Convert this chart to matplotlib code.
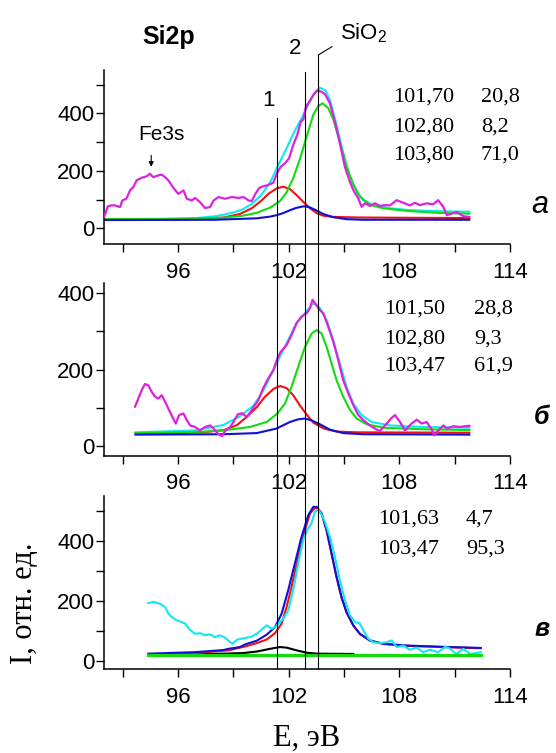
import matplotlib
matplotlib.use("Agg")
import matplotlib.pyplot as plt
from matplotlib.lines import Line2D
from matplotlib.ticker import FixedLocator
from matplotlib.transforms import blended_transform_factory

plt.rcParams["font.family"] = ["Liberation Sans", "DejaVu Sans"]
plt.rcParams["mathtext.fontset"] = "custom"
plt.rcParams["mathtext.rm"] = "Liberation Sans"

W, H = 556, 753
SERIF = ["Liberation Serif", "DejaVu Serif"]

# ---- spectrum (a): experiment + three-component fit ----
A_EXP = [(92.0, 40), (92.2, 77), (92.4, 80), (92.58, 80), (92.86, 74), (92.98, 97),
         (93.2, 103), (93.4, 132), (93.58, 144), (93.76, 167), (94.03, 176), (94.3, 181),
         (94.48, 190), (94.66, 178), (94.93, 184), (95.12, 187), (95.3, 178), (95.48, 167),
         (95.75, 141), (96.02, 120), (96.3, 132), (96.48, 103), (96.75, 97), (96.93, 106),
         (97.2, 91), (97.47, 71), (97.74, 74), (97.93, 97), (98.2, 109), (98.56, 103),
         (98.92, 109), (99.28, 106), (99.56, 109), (99.83, 97), (100.0, 95), (100.2, 120),
         (100.4, 140), (100.6, 146), (100.9, 151), (101.17, 159), (101.39, 195), (101.57, 214),
         (101.8, 226), (102.02, 243), (102.25, 290), (102.47, 325), (102.65, 370), (102.8, 379),
         (102.94, 423), (103.12, 440), (103.34, 464), (103.55, 479), (103.79, 475), (103.97, 467),
         (104.24, 435), (104.51, 371), (104.78, 296), (105.05, 214), (105.29, 168), (105.51, 133),
         (105.78, 104), (105.96, 75), (106.14, 87), (106.41, 78), (106.68, 87), (106.96, 78),
         (107.22, 81), (107.5, 80), (107.86, 98), (108.22, 89), (108.58, 80), (108.85, 89),
         (109.12, 81), (109.48, 87), (109.84, 84), (110.11, 98), (110.39, 75), (110.58, 46),
         (110.85, 52), (111.12, 57), (111.48, 42), (111.8, 40)]
A_SUM = [(92.0, 32), (95.0, 33), (97.0, 36), (98.0, 42), (98.5, 48), (99.0, 55), (99.5, 66),
         (100.0, 85), (100.5, 115), (101.0, 160), (101.4, 215), (101.9, 280), (102.3, 335),
         (102.7, 382), (103.1, 435), (103.45, 475), (103.7, 489), (104.0, 480), (104.25, 445),
         (104.6, 360), (104.95, 265), (105.3, 185), (105.7, 128), (106.05, 98), (106.6, 81),
         (107.5, 70), (108.5, 64), (109.5, 61), (110.75, 59), (111.8, 58)]
A_PEAK1 = [(92.0, 31), (96.0, 31), (97.5, 33), (98.5, 38), (99.36, 50), (100.0, 70),
           (100.5, 95), (100.9, 120), (101.35, 139), (101.7, 145), (102.07, 137), (102.43, 116),
           (102.8, 92), (103.16, 70), (103.52, 53), (103.88, 44), (104.42, 40), (105.7, 38),
           (108.0, 37), (111.8, 36)]
A_PEAK2 = [(92.0, 29), (98.0, 30), (100.27, 35), (101.0, 41), (101.35, 46), (101.7, 53),
           (102.07, 63), (102.4, 71), (102.75, 76), (102.89, 77), (103.16, 73), (103.52, 62),
           (103.88, 50), (104.42, 39), (105.14, 32), (106.0, 30), (111.8, 30)]
A_PEAK3 = [(92.0, 32), (96.0, 33), (98.46, 37), (99.5, 44), (100.27, 54), (100.99, 72),
           (101.53, 95), (101.89, 125), (102.25, 175), (102.61, 240), (102.98, 320),
           (103.34, 395), (103.61, 425), (103.84, 435), (104.15, 418), (104.42, 380),
           (104.78, 300), (105.14, 215), (105.51, 152), (105.87, 110), (106.41, 82),
           (107.13, 70), (108.4, 61), (110.0, 54), (111.8, 51)]
A_TABLE = [("101,70", "20,8"), ("102,80", "8,2"), ("103,80", "71,0")]

# ---- spectrum (б) ----
B_EXP = [(93.67, 103), (93.85, 124), (94.03, 146), (94.21, 162), (94.39, 159), (94.57, 142),
         (94.76, 129), (94.93, 124), (95.12, 133), (95.3, 116), (95.52, 94), (95.7, 76),
         (95.88, 59), (96.06, 81), (96.3, 85), (96.48, 68), (96.66, 54), (96.93, 50),
         (97.2, 41), (97.47, 50), (97.74, 54), (97.93, 46), (98.16, 33), (98.38, 26),
         (98.56, 40), (98.83, 50), (99.01, 63), (99.25, 83), (99.47, 86), (99.74, 76),
         (100.01, 95), (100.36, 120), (100.63, 152), (100.9, 177), (101.17, 198), (101.39, 229),
         (101.57, 246), (101.89, 264), (102.16, 290), (102.43, 321), (102.7, 338), (102.98, 347),
         (103.16, 360), (103.3, 382), (103.48, 369), (103.7, 355), (103.88, 347), (104.15, 312),
         (104.42, 273), (104.69, 225), (104.96, 172), (105.24, 137), (105.51, 107), (105.78, 81),
         (106.05, 68), (106.41, 54), (106.78, 43), (106.96, 40), (107.32, 59), (107.55, 72),
         (107.77, 81), (108.04, 63), (108.31, 41), (108.67, 59), (108.95, 69), (109.22, 59),
         (109.49, 63), (109.76, 43), (109.89, 28), (110.12, 41), (110.4, 54), (110.58, 46),
         (110.94, 52), (111.3, 50), (111.57, 52), (111.8, 53)]
B_SUM = [(93.7, 36), (96.93, 41), (98.46, 55), (99.36, 78), (100.08, 105), (100.63, 145),
         (101.17, 198), (101.62, 242), (102.07, 286), (102.43, 321), (102.89, 347),
         (103.25, 369), (103.43, 373), (103.7, 360), (104.06, 329), (104.42, 277),
         (104.78, 216), (105.14, 155), (105.51, 111), (105.96, 81), (106.5, 63), (107.5, 54),
         (109.3, 50), (111.8, 48)]
B_PEAK1 = [(93.7, 33), (96.0, 34), (97.5, 37), (98.5, 42), (99.2, 55), (99.7, 75),
           (100.3, 103), (100.7, 128), (101.2, 150), (101.55, 157), (101.9, 151), (102.25, 133),
           (102.6, 107), (103.0, 81), (103.35, 61), (103.9, 46), (104.6, 38), (105.7, 36),
           (111.8, 35)]
B_PEAK2 = [(93.7, 30), (98.46, 31), (100.27, 34), (101.35, 46), (102.07, 63), (102.52, 70),
           (102.89, 72), (103.25, 67), (103.7, 57), (104.24, 43), (104.96, 34), (106.05, 31),
           (111.8, 30)]
B_PEAK3 = [(93.7, 34), (96.0, 36), (97.5, 38), (98.46, 41), (99.9, 50), (100.81, 63),
           (101.39, 85), (101.8, 111), (102.16, 155), (102.52, 207), (102.89, 259),
           (103.25, 294), (103.52, 303), (103.79, 294), (104.06, 259), (104.33, 216),
           (104.6, 172), (104.96, 129), (105.33, 94), (105.69, 72), (106.23, 57), (107.14, 48),
           (109.3, 44), (111.8, 42)]
B_TABLE = [("101,50", "28,8"), ("102,80", "9,3"), ("103,47", "61,9")]

# ---- spectrum (в) ----
C_EXP = [(94.39, 193), (94.66, 197), (95.02, 191), (95.3, 180), (95.48, 158), (95.66, 147),
         (95.93, 136), (96.2, 130), (96.38, 125), (96.65, 104), (96.93, 91), (97.2, 93),
         (97.47, 86), (97.74, 89), (98.01, 80), (98.28, 86), (98.55, 78), (98.95, 58),
         (99.19, 71), (99.46, 75), (99.73, 78), (100.0, 82), (100.27, 91), (100.54, 105),
         (100.81, 119), (101.09, 108), (101.3, 115), (101.44, 125), (101.71, 141), (101.98, 169),
         (102.25, 236), (102.52, 325), (102.79, 402), (103.0, 436), (103.24, 458), (103.43, 497),
         (103.61, 505), (103.79, 486), (103.97, 463), (104.24, 413), (104.51, 347), (104.78, 269),
         (105.06, 202), (105.33, 152), (105.6, 130), (105.87, 125), (106.05, 102), (106.32, 75),
         (106.59, 63), (106.96, 60), (107.32, 63), (107.59, 69), (107.86, 47), (108.22, 52),
         (108.58, 38), (108.94, 45), (109.3, 30), (109.66, 38), (110.11, 30), (110.48, 47),
         (110.7, 44), (111.09, 24), (111.47, 41), (111.85, 24), (112.42, 30)]
C_SUM = [(94.4, 25), (96.93, 30), (98.46, 37), (98.74, 41), (99.36, 47), (99.65, 56),
         (100.27, 68), (100.81, 88), (101.26, 113), (101.62, 158), (101.98, 236), (102.34, 325),
         (102.7, 413), (103.07, 486), (103.34, 513), (103.52, 513), (103.79, 491), (104.06, 436),
         (104.33, 358), (104.6, 280), (104.87, 213), (105.14, 163), (105.51, 119), (105.87, 91),
         (106.41, 69), (107.14, 58), (108.4, 52), (110.75, 47), (112.42, 44)]
C_PEAK_MAIN = [(94.4, 22), (96.93, 27), (98.74, 36), (99.65, 49), (100.27, 60), (100.81, 72),
               (101.26, 93), (101.62, 125), (101.89, 180), (102.16, 247), (102.52, 347),
               (102.89, 436), (103.16, 491), (103.43, 510), (103.61, 505), (103.79, 489),
               (104.06, 434), (104.33, 356), (104.6, 279), (104.87, 212), (105.14, 162),
               (105.51, 118), (105.87, 90), (106.41, 68), (107.14, 57), (108.4, 51),
               (110.75, 46), (112.42, 43)]
C_PEAK_LOW = [(97.0, 23), (98.46, 25), (99.54, 27), (100.27, 32), (100.99, 41), (101.53, 47),
              (101.89, 45), (102.43, 36), (102.98, 28), (103.52, 25), (105.51, 24)]
C_BACKGROUND = [(94.4, 20), (112.42, 20)]
C_TABLE = [("101,63", "4,7"), ("103,47", "95,3")]

E_MAJOR = [96, 102, 108, 114]
E_MINOR = [93, 99, 105, 111]
PEAK_POSITIONS = [101.39, 102.89, 103.61]

MAGENTA = "#dc22dc"
CYAN = "#10e8f0"
RED = "#f01010"
GREEN = "#10dc10"
BLUE = "#1010d8"


def xy(points):
    return [p[0] for p in points], [p[1] for p in points]


fig = plt.figure(figsize=(W / 100, H / 100), dpi=100)


def panel(top, bottom, ylim, yminor):
    ax = fig.add_axes([104.2 / W, 1 - bottom / H, 405.7 / W, (bottom - top) / H])
    ax.set_xlim(92, 114)
    ax.set_ylim(*ylim)
    for side in ("top", "right"):
        ax.spines[side].set_visible(False)
    for side in ("left", "bottom"):
        ax.spines[side].set_linewidth(1.1)
    ax.xaxis.set_major_locator(FixedLocator(E_MAJOR))
    ax.xaxis.set_minor_locator(FixedLocator(E_MINOR))
    ax.yaxis.set_major_locator(FixedLocator([0, 200, 400]))
    ax.yaxis.set_minor_locator(FixedLocator(yminor))
    ax.tick_params(which="both", direction="out", length=5.5, width=1.0)
    ax.tick_params(axis="x", which="major", labelsize=16, pad=7)
    ax.tick_params(axis="y", which="major", labelsize=16, pad=1.5)
    return ax


def curve(ax, points, color, lw=1.5, z=2):
    x, y = xy(points)
    ax.plot(x, y, color=color, lw=lw, zorder=z, solid_joinstyle="round")


def table(rows, x1, x2, baselines):
    for (pos, share), yb in zip(rows, baselines):
        fig.text(x1 / W, 1 - yb / H, pos, family=SERIF, fontsize=16, va="baseline")
        fig.text(x2 / W, 1 - yb / H, share, family=SERIF, fontsize=16, va="baseline")


ax_a = panel(70.2, 244.5, (-56, 550), [100, 300, 500])
curve(ax_a, A_SUM, CYAN)
curve(ax_a, A_PEAK1, RED)
curve(ax_a, A_PEAK3, GREEN)
curve(ax_a, A_PEAK2, BLUE)
curve(ax_a, A_EXP, MAGENTA, lw=1.6, z=3)
table(A_TABLE, 393, 481, [101.7, 131.7, 160])
ax_a.text(95.12, 328, "Fe3s", fontsize=15, ha="center", va="center")
ax_a.annotate("", xy=(94.55, 214), xytext=(94.55, 254),
              arrowprops=dict(arrowstyle="-|>", lw=0.8, color="k", mutation_scale=7,
                              shrinkA=0, shrinkB=0))

ax_b = panel(283.3, 455.7, (-25, 425), [100, 300])
curve(ax_b, B_SUM, CYAN)
curve(ax_b, B_PEAK1, RED)
curve(ax_b, B_PEAK3, GREEN)
curve(ax_b, B_PEAK2, BLUE)
curve(ax_b, B_EXP, MAGENTA, lw=1.6, z=3)
table(B_TABLE, 384, 474, [313.3, 343.3, 370.7])

ax_c = panel(496, 669.3, (-27, 549), [100, 300, 500])
curve(ax_c, C_PEAK_LOW, "black")
curve(ax_c, C_PEAK_MAIN, RED)
curve(ax_c, C_SUM, BLUE, z=3)
curve(ax_c, C_EXP, CYAN, z=4)
curve(ax_c, C_BACKGROUND, GREEN, lw=2.3, z=5)
table(C_TABLE, 378, 466, [524, 553.3])

# peak position markers crossing all three panels
trans = blended_transform_factory(ax_c.transData, fig.transFigure)
for xpos, ytop in zip(PEAK_POSITIONS, [118, 71.7, 55]):
    fig.add_artist(Line2D([xpos, xpos], [1 - ytop / H, 1 - 669.3 / H],
                          transform=trans, color="black", lw=0.8))
fig.add_artist(Line2D([PEAK_POSITIONS[2], 104.35], [1 - 55 / H, 1 - 46.7 / H],
                      transform=trans, color="black", lw=0.8))

fig.text(169 / W, 1 - 37 / H, "Si2p", fontsize=18, fontweight="bold", ha="center", va="center")
fig.text(268.7 / W, 1 - 101 / H, "1", fontsize=16, ha="center", va="center")
fig.text(295 / W, 1 - 48 / H, "2", fontsize=16, ha="center", va="center")
fig.text(364 / W, 1 - 33 / H, r"SiO$_\mathregular{2}$", fontsize=16, ha="center", va="center")

fig.text(540 / W, 1 - 205 / H, "а", fontsize=22, style="italic", ha="center", va="center")
fig.text(542 / W, 1 - 417 / H, "б", fontsize=18, style="italic", fontweight="bold",
         ha="center", va="center")
fig.text(542 / W, 1 - 629 / H, "в", fontsize=18, style="italic", fontweight="bold",
         ha="center", va="center")

fig.text(307 / W, 1 - 738 / H, "E, эВ", family=SERIF, fontsize=22, ha="center", va="center")
fig.text(24 / W, 1 - 603 / H, "I, отн. ед.", family=SERIF, fontsize=22, rotation=90,
         ha="center", va="center")

fig.savefig("out.png", dpi=100)
